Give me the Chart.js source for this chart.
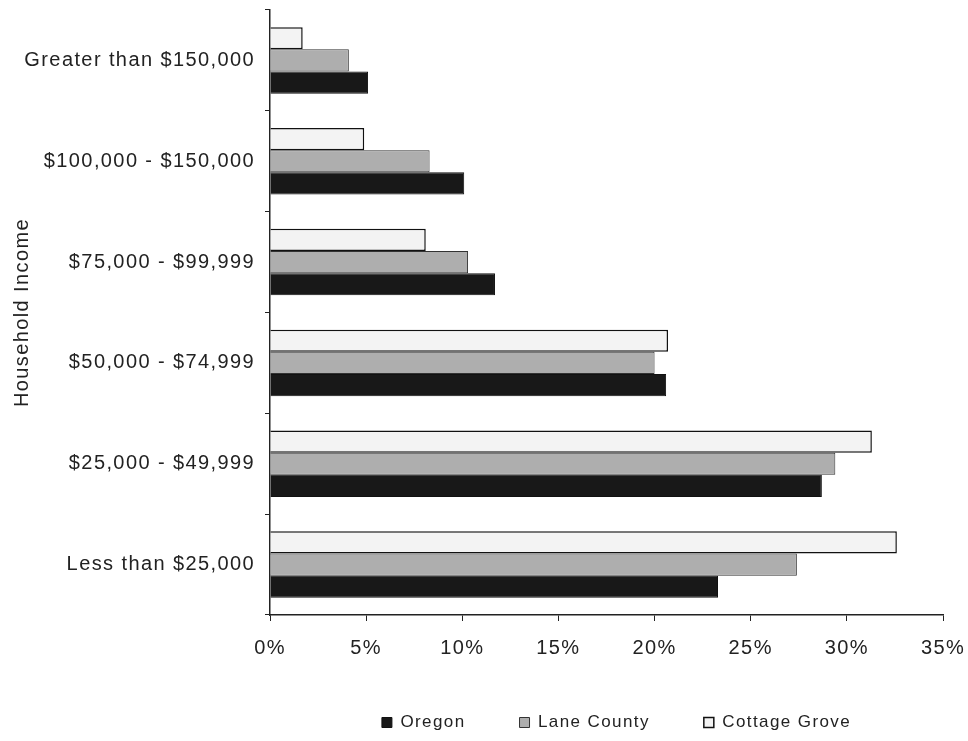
<!DOCTYPE html>
<html>
<head>
<meta charset="utf-8">
<script src="https://cdn.jsdelivr.net/npm/chart.js@4"></script>
<style>
  html, body { margin: 0; padding: 0; background: #fff; }
  #wrap { width: 968px; height: 741px; }
</style>
</head>
<body>
<div id="wrap"><canvas id="incomeChart" width="968" height="741"></canvas></div>
<script>
// data (percent of households)
const categories = [
  "Greater than $150,000",
  "$100,000 - $150,000",
  "$75,000 - $99,999",
  "$50,000 - $74,999",
  "$25,000 - $49,999",
  "Less than $25,000"
];
const oregon = [5.1, 10.1, 11.7, 20.6, 28.7, 23.3];
const laneCounty = [4.1, 8.3, 10.3, 20.0, 29.4, 27.4];
const cottageGrove = [1.7, 4.9, 8.1, 20.7, 31.3, 32.6];
const xTicks = [0, 5, 10, 15, 20, 25, 30, 35];

const font = "'Liberation Sans', Arial, sans-serif";

// the scanned original has loosely spaced lettering
const spacing = {
  id: "spacing",
  beforeUpdate: (c) => { c.ctx.letterSpacing = "1.4px"; },
  beforeDraw: (c) => { c.ctx.letterSpacing = "1.4px"; }
};

// legend sits under the plot area, not the whole canvas
const legendShift = {
  id: "legendShift",
  afterLayout: (c) => { c.legend.left = 265; c.legend.right = 968; }
};

new Chart(document.getElementById("incomeChart"), {
  type: "bar",
  plugins: [spacing, legendShift],
  data: {
    labels: categories,
    // drawn top-to-bottom in each group: Cottage Grove, Lane County, Oregon
    datasets: [
      {
        label: "Cottage Grove",
        data: cottageGrove,
        backgroundColor: "#f3f3f3",
        borderColor: "#111",
        borderWidth: 1.5
      },
      {
        label: "Lane County",
        data: laneCounty,
        backgroundColor: "#aeaeae",
        borderColor: "#333",
        borderWidth: 1
      },
      {
        label: "Oregon",
        data: oregon,
        backgroundColor: "#181818",
        borderColor: "#111",
        borderWidth: 1
      }
    ]
  },
  options: {
    indexAxis: "y",
    responsive: false,
    animation: false,
    datasets: { bar: { categoryPercentage: 0.66, barPercentage: 1.0 } },
    layout: { padding: { top: 10, right: 25, bottom: 0, left: 0 } },
    plugins: {
      tooltip: { enabled: false },
      legend: {
        position: "bottom",
        reverse: true,
        labels: {
          color: "#222",
          font: { family: font, size: 17 },
          boxWidth: 10,
          boxHeight: 10,
          padding: 54
        }
      }
    },
    scales: {
      x: {
        min: 0,
        max: 35,
        afterBuildTicks: (s) => { s.ticks = xTicks.map(v => ({ value: v })); },
        afterFit: (s) => { s.height = 45; s.paddingLeft = 0; s.paddingRight = 0; },
        ticks: {
          color: "#222",
          font: { family: font, size: 20 },
          padding: 15,
          callback: (v) => v + "%"
        },
        grid: { drawOnChartArea: false, tickLength: 6, color: "#222" },
        border: { color: "#222", width: 1.5 }
      },
      y: {
        afterFit: (s) => { s.width = 270; s.paddingTop = 0; s.paddingBottom = 0; },
        ticks: {
          color: "#222",
          font: { family: font, size: 20 },
          padding: 10
        },
        grid: { drawOnChartArea: false, offset: true, tickLength: 5, color: "#222" },
        border: { color: "#222", width: 1.5 },
        title: {
          display: true,
          text: "Household Income",
          color: "#222",
          font: { family: font, size: 20 },
          padding: { top: 10, bottom: 4 }
        }
      }
    }
  }
});
</script>
</body>
</html>
